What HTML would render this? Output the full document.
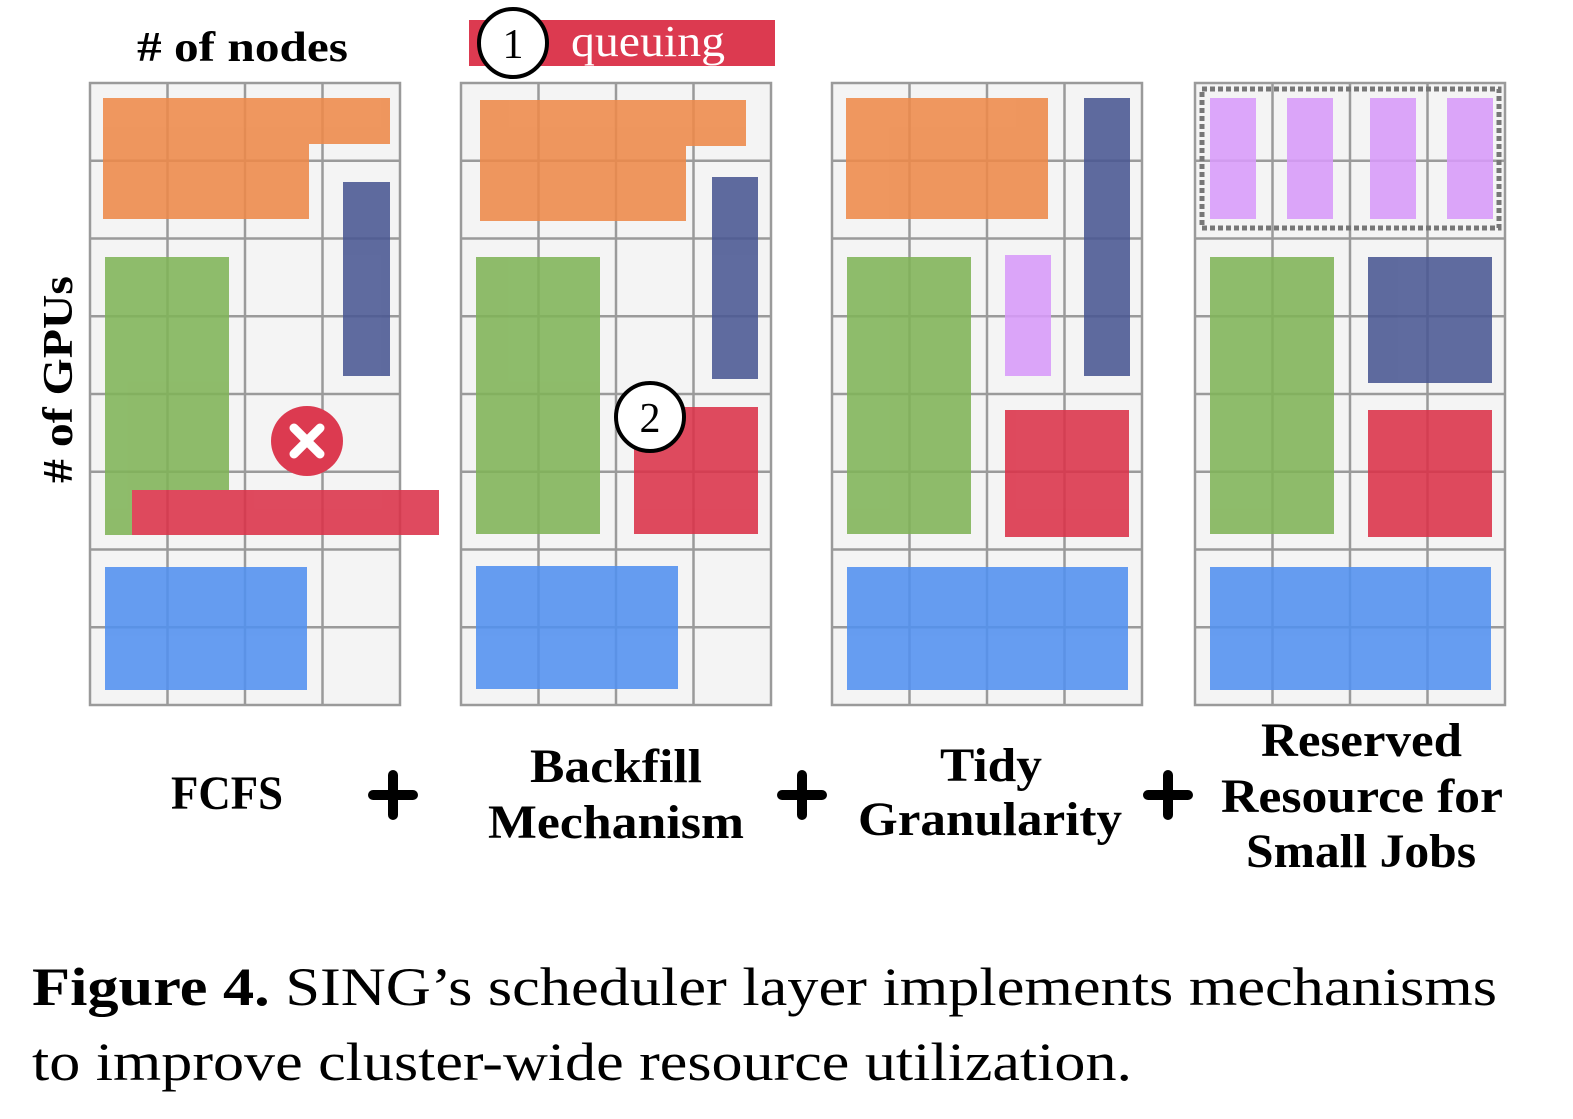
<!DOCTYPE html>
<html><head><meta charset="utf-8"><style>
html,body{margin:0;padding:0;background:#fff;}
svg{display:block;}
text{font-family:"Liberation Serif",serif;}
</style></head><body>
<svg width="1573" height="1119" viewBox="0 0 1573 1119" xmlns="http://www.w3.org/2000/svg">
<defs>
<g id="grid">
<rect x="0" y="0" width="310" height="622" fill="#f4f4f4" stroke="#9a9a9a" stroke-width="2.5"/>
<path d="M77.5 0V622M155 0V622M232.5 0V622M0 77.75H310M0 155.5H310M0 233.25H310M0 311H310M0 388.75H310M0 466.5H310M0 544.25H310" stroke="#9a9a9a" stroke-width="2.5" fill="none"/>
</g>
</defs>
<use href="#grid" x="90" y="83"/>
<use href="#grid" x="461" y="83"/>
<use href="#grid" x="832" y="83"/>
<use href="#grid" x="1195" y="83"/>
<g opacity="0.88">
<rect x="103" y="98" width="287" height="46" fill="#ee8a4a"/>
<rect x="103" y="144" width="206" height="75" fill="#ee8a4a"/>
<rect x="343" y="182" width="47" height="194" fill="#4a5893"/>
<rect x="105" y="257" width="124" height="278" fill="#80b458"/>
<rect x="132" y="490" width="307" height="45" fill="#db3249"/>
<rect x="105" y="567" width="202" height="123" fill="#5291f0"/>
<rect x="480" y="100" width="266" height="46" fill="#ee8a4a"/>
<rect x="480" y="146" width="206" height="75" fill="#ee8a4a"/>
<rect x="712" y="177" width="46" height="202" fill="#4a5893"/>
<rect x="476" y="257" width="124" height="277" fill="#80b458"/>
<rect x="634" y="407" width="124" height="127" fill="#db3249"/>
<rect x="476" y="566" width="202" height="123" fill="#5291f0"/>
<rect x="846" y="98" width="202" height="121" fill="#ee8a4a"/>
<rect x="1084" y="98" width="46" height="278" fill="#4a5893"/>
<rect x="847" y="257" width="124" height="277" fill="#80b458"/>
<rect x="1005" y="255" width="46" height="121" fill="#d89bfa"/>
<rect x="1005" y="410" width="124" height="127" fill="#db3249"/>
<rect x="847" y="567" width="281" height="123" fill="#5291f0"/>
<rect x="1210" y="98" width="46" height="121" fill="#d89bfa"/>
<rect x="1287" y="98" width="46" height="121" fill="#d89bfa"/>
<rect x="1370" y="98" width="46" height="121" fill="#d89bfa"/>
<rect x="1447" y="98" width="46" height="121" fill="#d89bfa"/>
<rect x="1210" y="257" width="124" height="277" fill="#80b458"/>
<rect x="1368" y="257" width="124" height="126" fill="#4a5893"/>
<rect x="1368" y="410" width="124" height="127" fill="#db3249"/>
<rect x="1210" y="567" width="281" height="123" fill="#5291f0"/>
</g>
<rect x="1202" y="89" width="297" height="139" fill="none" stroke="#777" stroke-width="5" stroke-dasharray="5 3"/>
<ellipse cx="307" cy="441" rx="36" ry="35" fill="#dc3a50"/>
<path d="M294 428L320 454M320 428L294 454" stroke="#fff" stroke-width="9" stroke-linecap="round"/>
<rect x="469" y="20" width="306" height="46" fill="#dc3a50"/>
<text x="571" y="56" font-size="44" fill="#fff" textLength="154" lengthAdjust="spacingAndGlyphs">queuing</text>
<circle cx="513" cy="43" r="34" fill="#fff" stroke="#000" stroke-width="4"/>
<text x="513" y="58" font-size="42" text-anchor="middle">1</text>
<circle cx="650" cy="417" r="34" fill="#fff" stroke="#000" stroke-width="4"/>
<text x="650" y="432" font-size="42" text-anchor="middle">2</text>
<text x="137" y="61" font-size="42" font-weight="bold" textLength="211" lengthAdjust="spacingAndGlyphs">#&#160;of nodes</text>
<text transform="translate(72,483) rotate(-90)" font-size="42" font-weight="bold" textLength="207" lengthAdjust="spacingAndGlyphs"># of GPUs</text>
<g font-size="48" font-weight="bold">
<text x="171" y="809" textLength="112" lengthAdjust="spacingAndGlyphs">FCFS</text>
<text x="530" y="782" textLength="172" lengthAdjust="spacingAndGlyphs">Backfill</text>
<text x="488" y="838" textLength="256" lengthAdjust="spacingAndGlyphs">Mechanism</text>
<text x="940" y="781" textLength="102" lengthAdjust="spacingAndGlyphs">Tidy</text>
<text x="858" y="835" textLength="264" lengthAdjust="spacingAndGlyphs">Granularity</text>
<text x="1261" y="756" textLength="201" lengthAdjust="spacingAndGlyphs">Reserved</text>
<text x="1221" y="812" textLength="282" lengthAdjust="spacingAndGlyphs">Resource for</text>
<text x="1246" y="867" textLength="230" lengthAdjust="spacingAndGlyphs">Small Jobs</text>
</g>
<g stroke="#000" stroke-width="10" stroke-linecap="round">
<path d="M373 795H413M393 775V815"/>
<path d="M782 795H822M802 775V815"/>
<path d="M1148 795H1188M1168 775V815"/>
</g>
<text x="32" y="1005" font-size="54" textLength="1465" lengthAdjust="spacingAndGlyphs"><tspan font-weight="bold">Figure 4.</tspan> SING’s scheduler layer implements mechanisms</text>
<text x="32" y="1080" font-size="54" textLength="1100" lengthAdjust="spacingAndGlyphs">to improve cluster-wide resource utilization.</text>
</svg>
</body></html>
